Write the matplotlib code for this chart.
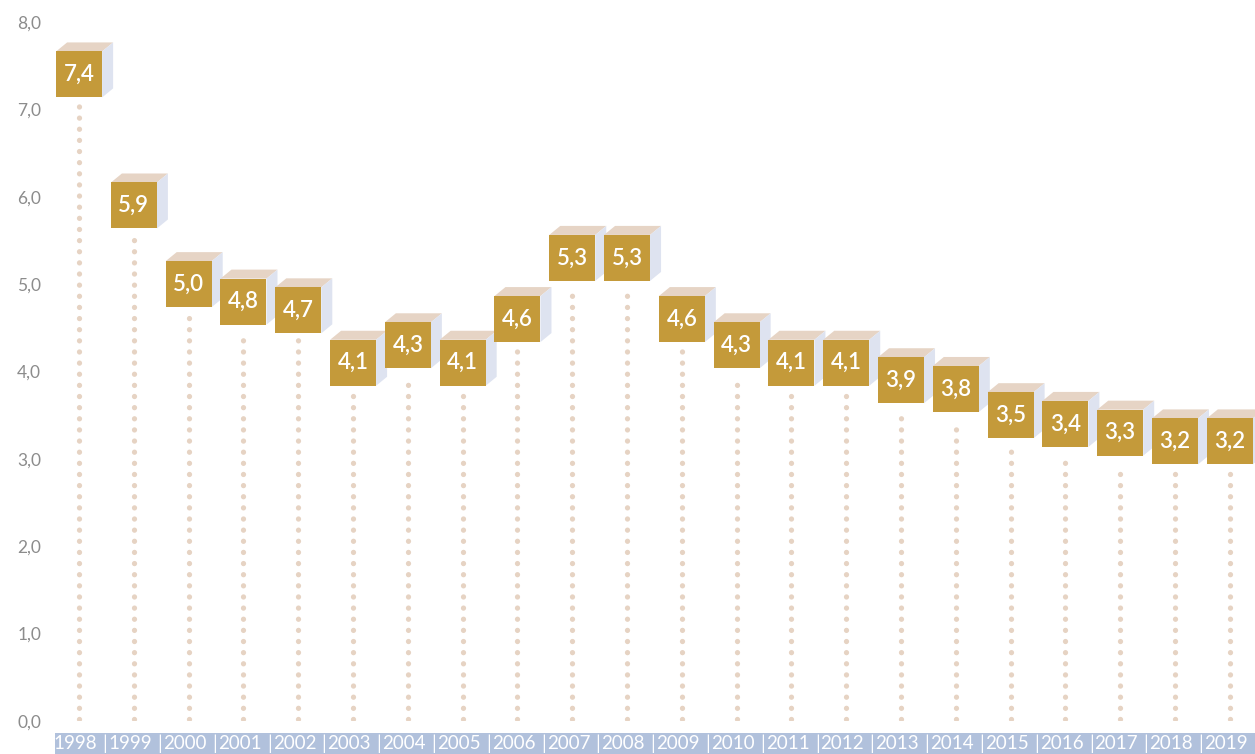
import numpy as np
import matplotlib
matplotlib.use("Agg")
import matplotlib.pyplot as plt
from matplotlib.patches import Polygon, Rectangle

plt.rcParams['font.family'] = ['Lato', 'DejaVu Sans']

# Datos
anios = [str(a) for a in range(1998, 2020)]
valores = [7.4, 5.9, 5.0, 4.8, 4.7, 4.1, 4.3, 4.1, 4.6, 5.3, 5.3,
           4.6, 4.3, 4.1, 4.1, 3.9, 3.8, 3.5, 3.4, 3.3, 3.2, 3.2]
ticks_y = [0, 1, 2, 3, 4, 5, 6, 7, 8]

# Colores
oro = '#C49A3A'
techo = '#E6D4C5'
lado = '#DEE3F0'
puntos = '#E6D3C3'
banda = '#B1C1DC'
gris = '#8C8C8C'

W, H = 1255, 754
fig = plt.figure(figsize=(W / 100, H / 100), dpi=100)
ax_l, ax_r, ax_t, ax_b = 55, 1255, 22, 721
ax = fig.add_axes([ax_l / W, (H - ax_b) / H, (ax_r - ax_l) / W, (ax_b - ax_t) / H])

x = np.arange(len(anios))
x0, x1 = -0.44, 21.46
ax.set_xlim(x0, x1)
ax.set_ylim(0, 8)

# pixeles por unidad de datos
ppx = (ax_r - ax_l) / (x1 - x0)
ppy = (ax_b - ax_t) / 8.0
w = 46 / ppx
h = 46 / ppy
dx = 11 / ppx
dy = 9 / ppy

for i, (xi, v) in enumerate(zip(x, valores)):
    # linea punteada
    ax.plot([xi, xi], [0.02, v - h / 2 - 7 / ppy], color=puntos, lw=3.8,
            linestyle=(0, (0.01, 2.1)), dash_capstyle='round', zorder=1)
    l, r = xi - w / 2, xi + w / 2
    b, t = v - h / 2, v + h / 2
    z = 2 + i * 0.1
    ax.add_patch(Polygon([(l, t), (r, t), (r + dx, t + dy), (l + dx, t + dy)],
                         closed=True, facecolor=techo, edgecolor='none', zorder=z))
    ax.add_patch(Polygon([(r, b), (r, t), (r + dx, t + dy), (r + dx, b + dy)],
                         closed=True, facecolor=lado, edgecolor='none', zorder=z))
    ax.add_patch(Rectangle((l, b), w, h, facecolor=oro, edgecolor='none', zorder=z + 0.01))
    ax.text(xi, v, f"{v:.1f}".replace('.', ','), ha='center', va='center',
            color='white', fontsize=16, fontweight='semibold', zorder=z + 0.02)

# eje y
ax.set_yticks(ticks_y)
ax.set_yticklabels([f"{t:.1f}".replace('.', ',') for t in ticks_y], color=gris, fontsize=12.5)
ax.tick_params(axis='y', length=0, pad=10)
ax.set_xticks([])
for s in ax.spines.values():
    s.set_visible(False)

# banda de anios
band_top = -(733 - ax_b) / (ax_b - ax_t)
band_bot = -(H - ax_b) / (ax_b - ax_t)
ax.add_patch(Rectangle((0, band_bot), 1, band_top - band_bot, transform=ax.transAxes,
                       facecolor=banda, edgecolor='none', clip_on=False))
yb = (band_top + band_bot) / 2
trans = ax.get_xaxis_transform()
for xi, a in zip(x, anios):
    ax.text(xi - 0.07, yb, a, transform=trans, ha='center', va='center',
            color='white', fontsize=13.5, clip_on=False)
for xi in x[:-1]:
    ax.text(xi + 0.47, yb, '|', transform=trans, ha='center', va='center',
            color='white', fontsize=13.5, clip_on=False)

fig.savefig('out.png', dpi=100)
